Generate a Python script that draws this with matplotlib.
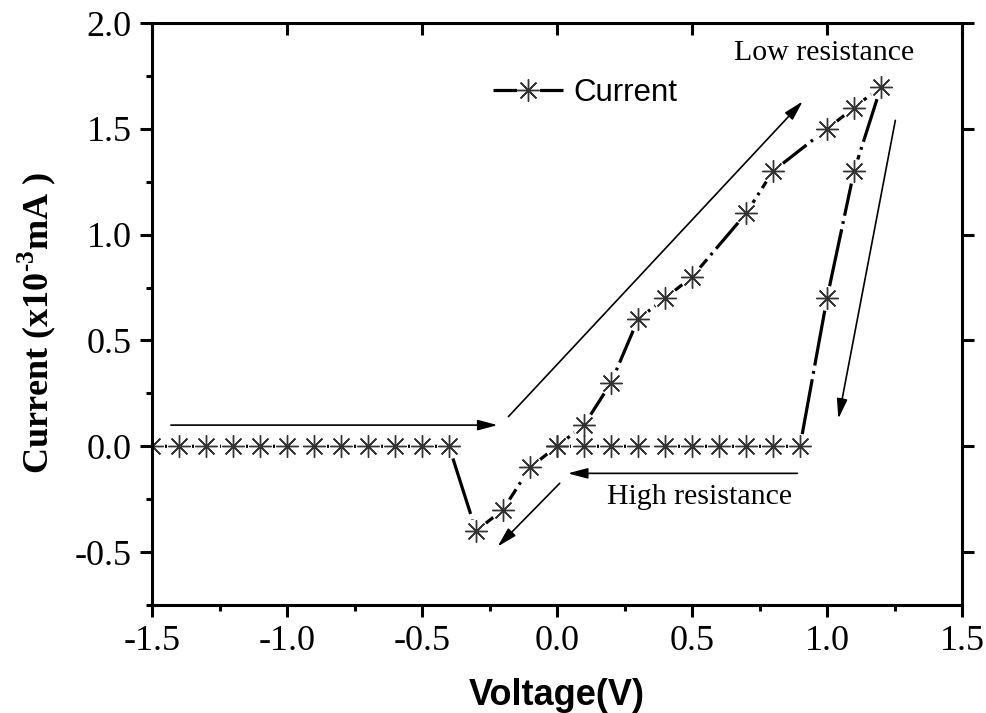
#!/usr/bin/env python3
"""I-V hysteresis sweep (resistive switching) with sweep-direction arrows."""

import matplotlib
matplotlib.use('Agg')
import matplotlib.pyplot as plt
import matplotlib.ticker as mticker
import matplotlib.lines as mlines
from matplotlib.lines import Line2D

# --- Data (sweep order) ---
voltage = [-1.5, -1.4, -1.3, -1.2, -1.1, -1.0, -0.9, -0.8, -0.7, -0.6, -0.5, -0.4,
           -0.3, -0.2, -0.1, 0.0, 0.1, 0.2, 0.3, 0.4, 0.5, 0.7, 0.8, 1.0, 1.1, 1.2,
           1.1, 1.0, 0.9, 0.8, 0.7, 0.6, 0.5, 0.4, 0.3, 0.2, 0.1, 0.0]
current = [0.0, 0.0, 0.0, 0.0, 0.0, 0.0, 0.0, 0.0, 0.0, 0.0, 0.0, 0.0,
           -0.4, -0.3, -0.1, 0.0, 0.1, 0.3, 0.6, 0.7, 0.8, 1.1, 1.3, 1.5, 1.6, 1.7,
           1.3, 0.7, 0.0, 0.0, 0.0, 0.0, 0.0, 0.0, 0.0, 0.0, 0.0, 0.0]

# sweep-direction arrows: (start, end) in data units
arrows = [
    ((-1.43, 0.10), (-0.22, 0.10)),
    ((-0.18, 0.14), (0.91, 1.63)),
    ((1.253, 1.54), (1.042, 0.13)),
    ((0.89, -0.128), (0.04, -0.128)),
    ((0.01, -0.175), (-0.22, -0.474)),
]

x_ticks = [-1.5, -1.0, -0.5, 0.0, 0.5, 1.0, 1.5]
y_ticks = [-0.5, 0.0, 0.5, 1.0, 1.5, 2.0]

SERIF = 'Liberation Serif'
SANS = 'Liberation Sans'
STAR = (8, 2, 0)
DPI = 100

plt.rcParams['font.family'] = SERIF
plt.rcParams['mathtext.fontset'] = 'custom'
plt.rcParams['mathtext.rm'] = 'Liberation Serif:bold'
plt.rcParams['mathtext.bf'] = 'Liberation Serif:bold'
plt.rcParams['lines.scale_dashes'] = False

fig = plt.figure(figsize=(987 / DPI, 713 / DPI), dpi=DPI)
ax = fig.add_axes([0.1540, 0.1515, 0.8207, 0.8162])

# connecting line, then white discs to open gaps round the symbols, then stars
ax.plot(voltage, current, color='black', lw=2.3, ls=(0, (45, 4, 2, 4)), zorder=2)
ax.plot(voltage, current, ls='none', marker='o', ms=17, mfc='white', mec='white', zorder=2.1)
ax.plot(voltage, current, ls='none', marker=STAR, ms=16, mec='#333333', mew=1.0, zorder=2.2)

for start, end in arrows:
    ax.annotate('', xy=end, xytext=start,
                arrowprops=dict(arrowstyle='-|>,head_length=0.6,head_width=0.16',
                                mutation_scale=20, lw=1.2, color='black',
                                shrinkA=0, shrinkB=0))

ax.text(0.99, 1.825, 'Low resistance', ha='center', va='baseline', fontsize=21.5)
ax.text(0.526, -0.275, 'High resistance', ha='center', va='baseline', fontsize=21.5)

# legend: solid line broken round the star
h_legend = Line2D([], [], color='black', lw=2.3, ls=(0, (17, 16.5, 17, 100)),
                  marker=STAR, ms=16, mec='#333333', mew=1.0)
ax.legend([h_legend], ['Current'], loc='center left', bbox_to_anchor=(0.421, 0.880),
          frameon=False, borderpad=0, borderaxespad=0, numpoints=1,
          handlelength=2.24, handletextpad=0.32,
          prop={'family': SANS, 'size': 22.5})

ax.set_xlim(-1.5, 1.5)
ax.set_ylim(-0.75, 2.0)
ax.set_xticks(x_ticks)
ax.set_yticks(y_ticks)
ax.xaxis.set_major_formatter(mticker.FormatStrFormatter('%.1f'))
ax.yaxis.set_major_formatter(mticker.FormatStrFormatter('%.1f'))
ax.xaxis.set_minor_locator(mticker.MultipleLocator(0.25))
ax.yaxis.set_minor_locator(mticker.MultipleLocator(0.25))

for s in ax.spines.values():
    s.set_linewidth(2.2)
ax.tick_params(which='both', width=2.2, labelsize=26, direction='out', pad=6)
ax.tick_params(which='major', length=8.5)
ax.tick_params(which='minor', length=4.5)
# mirrored majors on top and right, no mirrored minors
ax.tick_params(axis='x', which='major', top=True)
ax.tick_params(axis='y', which='major', right=True)

ax.set_xlabel('Voltage(V)', family=SANS, fontweight='bold', fontsize=26)
ax.set_ylabel(r'Current (x10$^{\text{-3}}$mA )', fontweight='bold', fontsize=26)
ax.xaxis.set_label_coords(0.5, -0.126)
ax.yaxis.set_label_coords(-0.116, 0.485)

# top ticks point into the frame
for t in ax.xaxis.get_major_ticks():
    t.tick2line.set_marker(mlines.TICKDOWN)

fig.savefig('out.png', dpi=DPI, facecolor='white')
